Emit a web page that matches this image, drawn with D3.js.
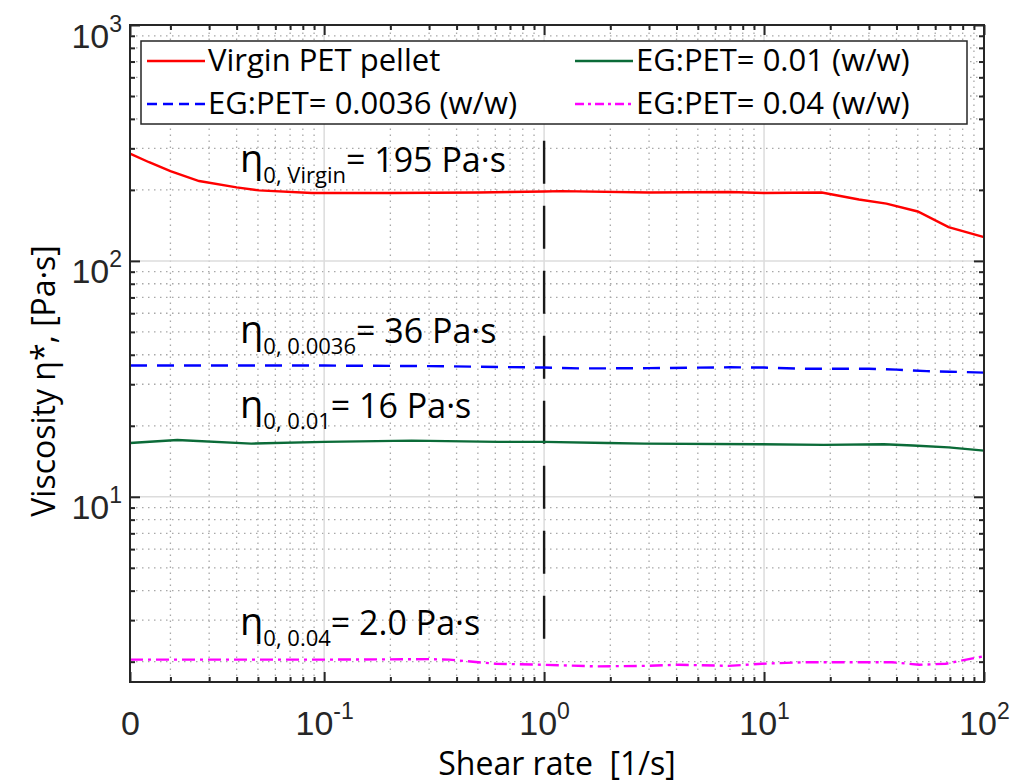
<!DOCTYPE html>
<html>
<head>
<meta charset="UTF-8">
<style>
  body { margin: 0; background: #fff; }
  svg text { font-family: "Open Sans", sans-serif; fill: #000; }
  .tick text { font-family: "Liberation Sans", Arial, sans-serif; fill: #262626; }
</style>
</head>
<body>
<svg id="chart" width="1029" height="784"></svg>
<script src="https://d3js.org/d3.v7.min.js"></script>
<script>
// shear rate [1/s] and complex viscosity [Pa.s]
let virginRate = [0.0131, 0.016, 0.02, 0.027, 0.04, 0.0506, 0.088, 0.2, 0.5, 1, 1.2, 3, 7, 10, 18.3, 27, 36, 50, 69, 100];
let virginVisc = [285, 262, 240, 218, 205, 199, 194, 194, 195, 197, 197.5, 195, 196, 194, 195, 182, 175, 162, 139, 126];

let eg0036Rate = [0.0131, 0.03, 0.1, 0.3, 0.5, 1, 1.5, 3, 7, 10, 15, 30, 40, 55, 70, 100];
let eg0036Visc = [36.0, 36.0, 36.0, 35.8, 35.6, 35.3, 35.0, 35.1, 35.4, 35.3, 34.9, 34.9, 34.6, 34.1, 33.9, 33.6];

let eg001Rate = [0.0131, 0.0215, 0.0466, 0.1, 0.25, 0.62, 1, 1.93, 2.85, 9.5, 18.7, 35, 47.5, 69, 100];
let eg001Visc = [16.9, 17.4, 16.8, 17.1, 17.3, 17.1, 17.1, 16.9, 16.8, 16.7, 16.6, 16.7, 16.5, 16.2, 15.7];

let eg004Rate = [0.0131, 0.05, 0.1, 0.3, 0.37, 0.6, 1, 1.72, 2.9, 4.1, 6.9, 9.8, 15.5, 30, 38, 50.7, 67, 100];
let eg004Visc = [2.04, 2.04, 2.04, 2.05, 2.04, 1.96, 1.94, 1.91, 1.92, 1.94, 1.92, 1.96, 1.99, 1.99, 1.99, 1.94, 1.96, 2.11];

let seriesNames = ["Virgin PET pellet", "EG:PET= 0.0036 (w/w)", "EG:PET= 0.01 (w/w)", "EG:PET= 0.04 (w/w)"];

let annSub = ["0, Virgin", "0, 0.0036", "0, 0.01", "0, 0.04"];
let annValue = ["= 195 Pa\u00B7s", "= 36 Pa\u00B7s", "= 16 Pa\u00B7s", "= 2.0 Pa\u00B7s"];

let xTickValues = [0.0131, 0.1, 1, 10, 100];
let xTickBase = ["0", "10", "10", "10", "10"];
let xTickExp = ["", "-1", "0", "1", "2"];
let yTickValues = [10, 100, 1000];
let yTickExp = ["1", "2", "3"];

// vertical marker at 1 1/s
let markerRate = [1, 1];
let markerVisc = [2.5, 350];

let width = 1029, height = 784;
let margin = {left: 130, right: 45, top: 25, bottom: 102};
let svg = d3.select("#chart");

let x = d3.scaleLog().domain([0.0131, 100]).range([margin.left, width - margin.right]);
let y = d3.scaleLog().domain([1.64, 1000]).range([height - margin.bottom, margin.top]);

let x0 = x.range()[0], x1 = x.range()[1];
let y0 = y.range()[0], y1 = y.range()[1];

// minor values
function minors(domain) {
  let out = [];
  for (let p = -3; p <= 3; p++) {
    for (let m = 2; m <= 9; m++) {
      let v = m * Math.pow(10, p);
      if (v > domain[0] * 1.001 && v < domain[1] * 0.999) out.push(v);
    }
  }
  return out;
}
let xMinor = minors(x.domain());
let yMinor = minors(y.domain());
let xMajorGrid = [0.1, 1, 10];
let yMajorGrid = [10, 100];

let grid = svg.append("g");
grid.selectAll(".xminor").data(xMinor).enter().append("line")
  .attr("x1", d => x(d)).attr("x2", d => x(d)).attr("y1", y0).attr("y2", y1)
  .attr("stroke", "#a8a8a8").attr("stroke-width", 1.3).attr("stroke-dasharray", "1.5,4.5");
grid.selectAll(".yminor").data(yMinor).enter().append("line")
  .attr("x1", x0).attr("x2", x1).attr("y1", d => y(d)).attr("y2", d => y(d))
  .attr("stroke", "#a8a8a8").attr("stroke-width", 1.3).attr("stroke-dasharray", "1.5,4.5");
grid.selectAll(".xmajor").data(xMajorGrid).enter().append("line")
  .attr("x1", d => x(d)).attr("x2", d => x(d)).attr("y1", y0).attr("y2", y1)
  .attr("stroke", "#dcdcdc").attr("stroke-width", 1.5);
grid.selectAll(".ymajor").data(yMajorGrid).enter().append("line")
  .attr("x1", x0).attr("x2", x1).attr("y1", d => y(d)).attr("y2", d => y(d))
  .attr("stroke", "#dcdcdc").attr("stroke-width", 1.5);

// curves
let line = d3.line().x(d => x(d[0])).y(d => y(d[1]));
let zip = (a, b) => a.map((v, i) => [v, b[i]]);

let series = [
  {rate: virginRate, visc: virginVisc, color: "#ff0000", dash: null},
  {rate: eg0036Rate, visc: eg0036Visc, color: "#0000ff", dash: "17,10"},
  {rate: eg001Rate, visc: eg001Visc, color: "#0b6b38", dash: null},
  {rate: eg004Rate, visc: eg004Visc, color: "#ff00ff", dash: "13,5,3,5"}
];

svg.append("path")
  .datum(zip(markerRate, markerVisc))
  .attr("d", line)
  .attr("fill", "none")
  .attr("stroke", "#1a1a1a")
  .attr("stroke-width", 2.4)
  .attr("stroke-dasharray", "43,22");

svg.selectAll(".curve").data(series).enter().append("path")
  .attr("d", d => line(zip(d.rate, d.visc)))
  .attr("fill", "none")
  .attr("stroke", d => d.color)
  .attr("stroke-width", 2.4)
  .attr("stroke-dasharray", d => d.dash);

// axes with inward ticks on all sides
let axisColor = "#262626";
function styleAxis(g) {
  g.select(".domain").remove();
  g.selectAll(".tick line").attr("stroke", axisColor).attr("stroke-width", 2);
}
svg.append("g").attr("transform", "translate(0," + y0 + ")")
  .call(d3.axisBottom(x).tickValues(xMinor).tickSize(-5).tickFormat(""))
  .call(styleAxis);
svg.append("g").attr("transform", "translate(0," + y1 + ")")
  .call(d3.axisTop(x).tickValues(xMinor).tickSize(-5).tickFormat(""))
  .call(styleAxis);
svg.append("g").attr("transform", "translate(" + x0 + ",0)")
  .call(d3.axisLeft(y).tickValues(yMinor).tickSize(-5).tickFormat(""))
  .call(styleAxis);
svg.append("g").attr("transform", "translate(" + x1 + ",0)")
  .call(d3.axisRight(y).tickValues(yMinor).tickSize(-5).tickFormat(""))
  .call(styleAxis);

let xAxis = svg.append("g").attr("transform", "translate(0," + y0 + ")")
  .call(d3.axisBottom(x).tickValues(xTickValues).tickSize(-10).tickFormat(""))
  .call(styleAxis);
svg.append("g").attr("transform", "translate(0," + y1 + ")")
  .call(d3.axisTop(x).tickValues(xTickValues).tickSize(-10).tickFormat(""))
  .call(styleAxis);
let yAxis = svg.append("g").attr("transform", "translate(" + x0 + ",0)")
  .call(d3.axisLeft(y).tickValues(yTickValues).tickSize(-10).tickFormat(""))
  .call(styleAxis);
svg.append("g").attr("transform", "translate(" + x1 + ",0)")
  .call(d3.axisRight(y).tickValues(yTickValues).tickSize(-10).tickFormat(""))
  .call(styleAxis);

// tick labels: base + superscript
xAxis.selectAll(".tick text").each(function(d, i) {
  let t = d3.select(this).attr("y", 53).attr("dy", null)
    .attr("font-size", 34).attr("text-anchor", "middle");
  t.text(null);
  t.append("tspan").text(xTickBase[i]);
  if (xTickExp[i]) t.append("tspan").attr("dy", -16).attr("font-size", 23).text(xTickExp[i]);
});
yAxis.selectAll(".tick text").each(function(d, i) {
  let t = d3.select(this).attr("x", -8).attr("dy", null).attr("y", 22)
    .attr("font-size", 34).attr("text-anchor", "end");
  t.text(null);
  t.append("tspan").text("10");
  t.append("tspan").attr("dy", -16).attr("font-size", 23).text(yTickExp[i]);
});

// box outline
svg.append("rect")
  .attr("x", x0).attr("y", y1).attr("width", x1 - x0).attr("height", y0 - y1)
  .attr("fill", "none").attr("stroke", axisColor).attr("stroke-width", 2);

// axis labels
svg.append("text")
  .attr("x", (x0 + x1) / 2).attr("y", 775)
  .attr("text-anchor", "middle").attr("font-size", 32).attr("fill", "#262626")
  .text("Shear rate\u00A0\u00A0[1/s]");
svg.append("text")
  .attr("transform", "translate(55,381) rotate(-90)")
  .attr("text-anchor", "middle").attr("font-size", 32).attr("fill", "#262626")
  .text("Viscosity \u03B7*, [Pa\u00B7s]");

// annotations
let annBase = [172, 343, 418, 635];
svg.selectAll(".ann").data(annSub).enter().append("text")
  .attr("x", 240).attr("y", (d, i) => annBase[i]).attr("font-size", 34)
  .each(function(d, i) {
    let t = d3.select(this);
    t.append("tspan").attr("font-size", 38).text("\u03B7");
    t.append("tspan").attr("dy", 11).attr("font-size", 22).text(d);
    t.append("tspan").attr("dy", -11).text(annValue[i]);
  });

// legend
let legend = svg.append("g");
legend.append("rect")
  .attr("x", 141).attr("y", 41).attr("width", 826).attr("height", 83)
  .attr("fill", "#fff").attr("stroke", "#262626").attr("stroke-width", 1.5);
let legendPos = [[147, 61], [147, 104], [575, 61], [575, 104]];
series.forEach((s, i) => {
  let p = legendPos[i];
  legend.append("line")
    .attr("x1", p[0]).attr("x2", p[0] + 58).attr("y1", p[1]).attr("y2", p[1])
    .attr("stroke", s.color).attr("stroke-width", 2.4)
    .attr("stroke-dasharray", s.dash ? (i === 1 ? "10,6" : "9,4,3,4") : null);
  legend.append("text")
    .attr("x", p[0] + 61).attr("y", p[1] + 10)
    .attr("font-size", 31)
    .text(seriesNames[i]);
});
</script>
</body>
</html>
